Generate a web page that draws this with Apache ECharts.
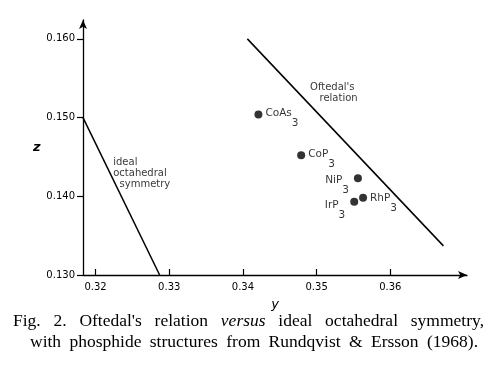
<!DOCTYPE html>
<html><head><meta charset="utf-8">
<script src="https://cdn.jsdelivr.net/npm/echarts@6/dist/echarts.min.js"></script>
<style>html,body{margin:0;padding:0;background:#fff}#c{width:500px;height:369px}</style>
</head><body><div id="c"></div>
<script>
// Data
const compounds = ['CoAs', 'CoP', 'NiP', 'RhP', 'IrP'];
const yValues = [0.3421, 0.3479, 0.3556, 0.3563, 0.3551];
const zValues = [0.1504, 0.1452, 0.1423, 0.1398, 0.1393];
const oftedalY = [0.3406, 0.3672];
const oftedalZ = [0.1600, 0.1337];
const idealY = [0.3183, 0.3287];
const idealZ = [0.1500, 0.1300];
const xTicks = [0.32, 0.33, 0.34, 0.35, 0.36];
const yTicks = [0.13, 0.14, 0.15, 0.16];
const xTickLabels = ['0.32', '0.33', '0.34', '0.35', '0.36'];
const yTickLabels = ['0.130', '0.140', '0.150', '0.160'];
const annotationTexts = ['ideal\noctahedral\n  symmetry', "Oftedal's\n   relation"];
const annotationY = [0.3224, 0.3491];
const annotationZ = [0.1450, 0.1545];
const captionLine1 = ["Fig.", "2.", "Oftedal's", "relation", "versus", "ideal", "octahedral", "symmetry,"];
const captionLine2 = ["with", "phosphide", "structures", "from", "Rundqvist", "&", "Ersson", "(1968)."];

const FONT = 'DejaVu Sans';
const labelStyles = [
  {position: 'right', offset: [0, 4]},
  {position: 'right', offset: [0, 4]},
  {position: 'left', offset: [-2, 7]},
  {position: 'right', offset: [0, 5]},
  {position: 'left', offset: [-2, 8]}
];
const rich = {
  a: {fontFamily: FONT, fontSize: 10.5, color: '#000', verticalAlign: 'top', lineHeight: 21},
  b: {fontFamily: FONT, fontSize: 10.5, color: '#000', verticalAlign: 'bottom', lineHeight: 21}
};

const chart = echarts.init(document.getElementById('c'), null, {renderer: 'canvas'});
const pts = compounds.map((n, i) => ({
  value: [yValues[i], zValues[i]],
  name: n,
  label: {show: true, position: labelStyles[i].position, offset: labelStyles[i].offset,
    distance: 3, formatter: '{a|' + n + '}{b|3}', rich: rich}
}));
const fmtX = v => { const i = xTicks.findIndex(t => Math.abs(t - v) < 1e-9); return i >= 0 ? xTickLabels[i] : ''; };
const fmtY = v => { const i = yTicks.findIndex(t => Math.abs(t - v) < 1e-9); return i >= 0 ? yTickLabels[i] : ''; };

// justified caption words
const CAP = '17.5px "Liberation Serif"';
const ctx = document.createElement('canvas').getContext('2d');
function justify(words, x0, x1, top, italicIdx) {
  const els = [];
  const widths = words.map((w, i) => {
    ctx.font = (i === italicIdx ? 'italic ' : '') + CAP;
    return ctx.measureText(w).width;
  });
  const sum = widths.reduce((a, b) => a + b, 0);
  const gap = (x1 - x0 - sum) / (words.length - 1);
  let x = x0;
  words.forEach((w, i) => {
    els.push({type: 'text', x: x, y: top, style: {text: w, fill: '#000',
      font: (i === italicIdx ? 'italic ' : '') + CAP}});
    x += widths[i] + gap;
  });
  return els;
}

chart.setOption({
  animation: false,
  backgroundColor: '#fff',
  grid: {left: 83, right: 33, top: 20, bottom: 94, containLabel: false},
  xAxis: {
    type: 'value', min: 0.3183, max: 0.3704,
    name: 'y', nameLocation: 'middle', nameGap: 23,
    nameTextStyle: {fontFamily: FONT, fontSize: 13, fontStyle: 'italic', color: '#000'},
    axisLine: {show: true, symbol: ['none', 'arrow'], symbolSize: [6, 9], lineStyle: {color: '#000', width: 1.3}},
    axisTick: {show: true, inside: true, length: 6, customValues: xTicks, lineStyle: {color: '#000', width: 1.2}},
    axisLabel: {customValues: xTicks, formatter: fmtX, fontFamily: FONT, fontSize: 10, color: '#000', margin: 7},
    splitLine: {show: false}
  },
  yAxis: {
    type: 'value', min: 0.13, max: 0.1624,
    name: 'z', nameLocation: 'middle', nameGap: 41, nameRotate: 0,
    nameTextStyle: {fontFamily: FONT, fontSize: 13, fontStyle: 'italic', fontWeight: 'bold', color: '#000'},
    axisLine: {show: true, symbol: ['none', 'arrow'], symbolSize: [6, 9], lineStyle: {color: '#000', width: 1.3}},
    axisTick: {show: true, inside: false, length: 6, customValues: yTicks, lineStyle: {color: '#000', width: 1.2}},
    axisLabel: {customValues: yTicks, formatter: fmtY, fontFamily: FONT, fontSize: 10, color: '#000', margin: 8},
    splitLine: {show: false}
  },
  series: [
    {type: 'line', data: oftedalY.map((y, i) => [y, oftedalZ[i]]), showSymbol: false,
      lineStyle: {color: '#000', width: 1.5}, silent: true},
    {type: 'line', data: idealY.map((y, i) => [y, idealZ[i]]), showSymbol: false,
      lineStyle: {color: '#000', width: 1.5}, silent: true},
    {type: 'scatter', data: pts, symbol: 'circle', symbolSize: 8, itemStyle: {color: '#000'}},
    {type: 'scatter', symbolSize: 0, silent: true,
      data: annotationTexts.map((t, i) => ({value: [annotationY[i], annotationZ[i]],
        label: {show: true, position: 'inside', formatter: t, align: 'left', verticalAlign: 'top',
          fontFamily: FONT, fontSize: 10, lineHeight: 11, color: '#000'}}))}
  ],
  graphic: justify(captionLine1, 13, 484, 312, 4).concat(justify(captionLine2, 30, 478, 333, -1))
});
</script></body></html>
